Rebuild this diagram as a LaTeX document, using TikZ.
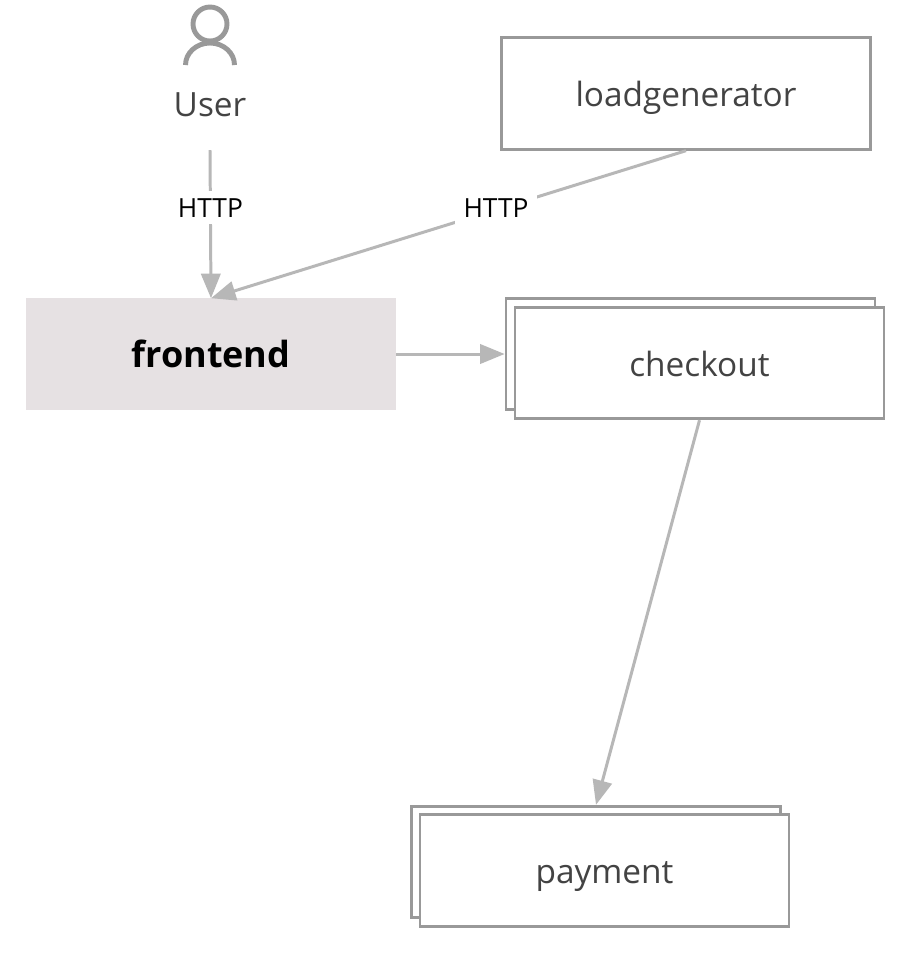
\documentclass[tikz,border=0pt]{standalone}
\usepackage{fontspec}
\setmainfont{Open Sans}
\usetikzlibrary{arrows.meta}
\tikzset{
	box/.style={draw=boxgray,line width=1.6pt,fill=white,minimum width=210pt,minimum height=63.5pt,inner sep=0pt,text height=15.4pt,text depth=0.4pt,font=\fontsize{19}{23}\selectfont,text=textgray},
	flow/.style={draw=flowgray,line width=1.7pt,-{Triangle[length=14pt,width=11pt]}},
	http/.style={fill=white,inner xsep=5pt,inner ysep=4pt,yshift=1pt,font=\fontsize{15}{18}\selectfont,text=black}
}
\definecolor{boxgray}{HTML}{999999}
\definecolor{flowgray}{HTML}{B7B7B7}
\definecolor{textgray}{HTML}{434343}
\definecolor{frontfill}{HTML}{E6E1E3}
\begin{document}
\begin{tikzpicture}[x=0.02cm,y=-0.02cm]
	\useasboundingbox (0,0) rectangle (912,978);
	\fill [white] (0,0) rectangle (912,978);

	% user icon
	\draw [boxgray,line width=2.8pt] (210,24) circle (17);
	\draw [boxgray,line width=2.8pt] (185.5,65) arc[x radius=24.5,y radius=22,start angle=180,end angle=360];
	\node (user) at (210,105) [font=\fontsize{19}{23}\selectfont,text=textgray,inner sep=0pt,minimum height=51pt] {User};

	\node (frontend) at (211,354) [minimum width=211pt,minimum height=63.5pt,inner sep=0pt,outer sep=0pt,fill=frontfill,font=\fontsize{20.5}{25}\selectfont\bfseries,text=black] {frontend};
	\node (loadgenerator) at (686,93.5) [box] {loadgenerator};

	\node (checkoutback) at (690.5,354) [box] {};
	\node (checkout) at (699.5,363) [box] {checkout};

	\node (paymentback) at (596,862) [box] {};
	\node (payment) at (604.5,870.5) [box] {payment};

	\draw [flow] (user.south) -- node [http,pos=0.4] {HTTP} (frontend.north);
	\draw [flow] (loadgenerator.south) -- node [http,pos=0.4] {HTTP} (frontend.north);
	\draw [flow] (frontend.east) -- (checkoutback.west);
	\draw [flow] (checkout.south) -- (paymentback.north);
\end{tikzpicture}
\end{document}
